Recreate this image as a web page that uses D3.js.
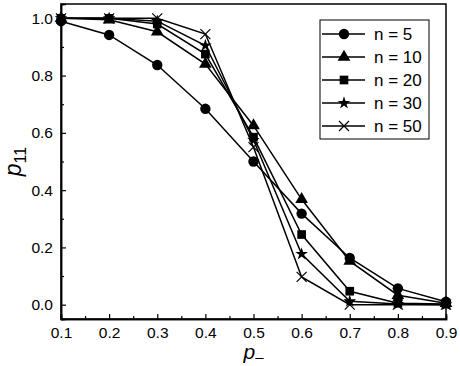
<!DOCTYPE html>
<html>
<head>
<meta charset="utf-8">
<script src="https://cdn.jsdelivr.net/npm/d3@7"></script>
<style>
  body { margin: 0; background: #fff; }
  text { font-family: "Liberation Sans", Arial, sans-serif; fill: #000; }
</style>
</head>
<body>
<script>
// p_- values on the x axis
var pMinus = [0.1, 0.2, 0.3, 0.4, 0.5, 0.6, 0.7, 0.8, 0.9];

var n5  = [0.99, 0.942, 0.837, 0.684, 0.50, 0.318, 0.163, 0.057, 0.01];
var n10 = [1.0, 0.995, 0.953, 0.84, 0.625, 0.368, 0.152, 0.033, 0.005];
var n20 = [1.0, 1.0, 0.98, 0.875, 0.585, 0.245, 0.047, 0.005, 0.002];
var n30 = [1.0, 1.0, 0.99, 0.905, 0.575, 0.177, 0.012, 0.002, 0.0];
var n50 = [1.0, 1.0, 1.0, 0.945, 0.55, 0.097, 0.0, 0.0, 0.0];

var seriesNames = ["n = 5", "n = 10", "n = 20", "n = 30", "n = 50"];
var seriesValues = [n5, n10, n20, n30, n50];
var markerTypes = ["circle", "triangle", "square", "star", "times"];

var xTicks = [0.1, 0.2, 0.3, 0.4, 0.5, 0.6, 0.7, 0.8, 0.9];
var yTicks = [0.0, 0.2, 0.4, 0.6, 0.8, 1.0];

var w = 460, h = 366;
var m = {left: 61, right: 14, top: 4, bottom: 47};

var svg = d3.select("body").append("svg")
    .attr("width", w)
    .attr("height", h);

var x = d3.scaleLinear().domain([0.1, 0.9]).range([m.left, w - m.right]);
var y = d3.scaleLinear().domain([-0.05, 1.05]).range([h - m.bottom, m.top]);

// frame
svg.append("rect")
    .attr("x", m.left).attr("y", m.top)
    .attr("width", w - m.right - m.left)
    .attr("height", h - m.bottom - m.top)
    .attr("fill", "none").attr("stroke", "#000").attr("stroke-width", 1.5);

// minor ticks
var xMinor = d3.range(0.15, 0.9, 0.1);
var yMinor = d3.range(0, 1.0, 0.2).map(function(d){ return d + 0.1; });

svg.append("g")
    .attr("transform", "translate(0," + (h - m.bottom) + ")")
    .call(d3.axisBottom(x).tickValues(xTicks).tickSize(-5).tickPadding(8).tickFormat(d3.format(".1f")));
svg.append("g")
    .attr("transform", "translate(0," + (h - m.bottom) + ")")
    .call(d3.axisBottom(x).tickValues(xMinor).tickSize(-3).tickFormat(""));

svg.append("g")
    .attr("transform", "translate(" + m.left + ",0)")
    .call(d3.axisLeft(y).tickValues(yTicks).tickSize(-5).tickPadding(8).tickFormat(d3.format(".1f")));
svg.append("g")
    .attr("transform", "translate(" + m.left + ",0)")
    .call(d3.axisLeft(y).tickValues(yMinor).tickSize(-3).tickFormat(""));

svg.selectAll(".domain").attr("stroke", "#000").attr("stroke-width", 1.5);
svg.selectAll(".tick line").attr("stroke", "#000").attr("stroke-width", 1.2);
svg.selectAll(".tick text")
    .style("font-size", "15.5px")
    .style("font-family", "'Liberation Sans', Arial, sans-serif")
    .attr("fill", "#000");

// axis titles
var xt = svg.append("text")
    .attr("x", x(0.5)).attr("y", 359)
    .attr("text-anchor", "middle")
    .style("font-size", "21px");
xt.append("tspan").text("p").style("font-style", "italic");
xt.append("tspan").text("\u2013").attr("dy", 3).style("font-size", "15px");

var yt = svg.append("text")
    .attr("transform", "translate(21," + y(0.5) + ") rotate(-90)")
    .attr("text-anchor", "middle")
    .style("font-size", "23px");
yt.append("tspan").text("p").style("font-style", "italic");
yt.append("tspan").text("11").attr("dy", 5).style("font-size", "16px");

function marker(sel, type) {
  if (type === "times") {
    sel.append("path")
      .attr("d", "M-5,-5L5,5M-5,5L5,-5")
      .attr("stroke", "#000").attr("stroke-width", 1.2).attr("fill", "none");
  } else {
    var sym = {circle: [d3.symbolCircle, 85], triangle: [d3.symbolTriangle, 70],
               square: [d3.symbolSquare, 75], star: [d3.symbolStar, 50]}[type];
    sel.append("path")
      .attr("d", d3.symbol().type(sym[0]).size(sym[1])())
      .attr("fill", "#000");
  }
}

var line = d3.line()
    .x(function(d, i){ return x(pMinus[i]); })
    .y(function(d){ return y(d); });

seriesValues.forEach(function(vals, k) {
  svg.append("path")
    .attr("d", line(vals))
    .attr("fill", "none")
    .attr("stroke", "#000")
    .attr("stroke-width", 1.5);
  vals.forEach(function(v, i) {
    var g = svg.append("g").attr("transform", "translate(" + x(pMinus[i]) + "," + y(v) + ")");
    marker(g, markerTypes[k]);
  });
});

// legend
var lg = svg.append("g").attr("transform", "translate(320,20)");
lg.append("rect")
    .attr("width", 109).attr("height", 119)
    .attr("fill", "#fff").attr("stroke", "#000").attr("stroke-width", 1);
seriesNames.forEach(function(name, k) {
  var yy = 14 + k * 23;
  lg.append("line")
    .attr("x1", 2).attr("x2", 45).attr("y1", yy).attr("y2", yy)
    .attr("stroke", "#000").attr("stroke-width", 1.5);
  var g = lg.append("g").attr("transform", "translate(24," + yy + ")");
  marker(g, markerTypes[k]);
  lg.append("text")
    .attr("x", 54).attr("y", yy + 6)
    .style("font-size", "17px")
    .text(name);
});
</script>
</body>
</html>
